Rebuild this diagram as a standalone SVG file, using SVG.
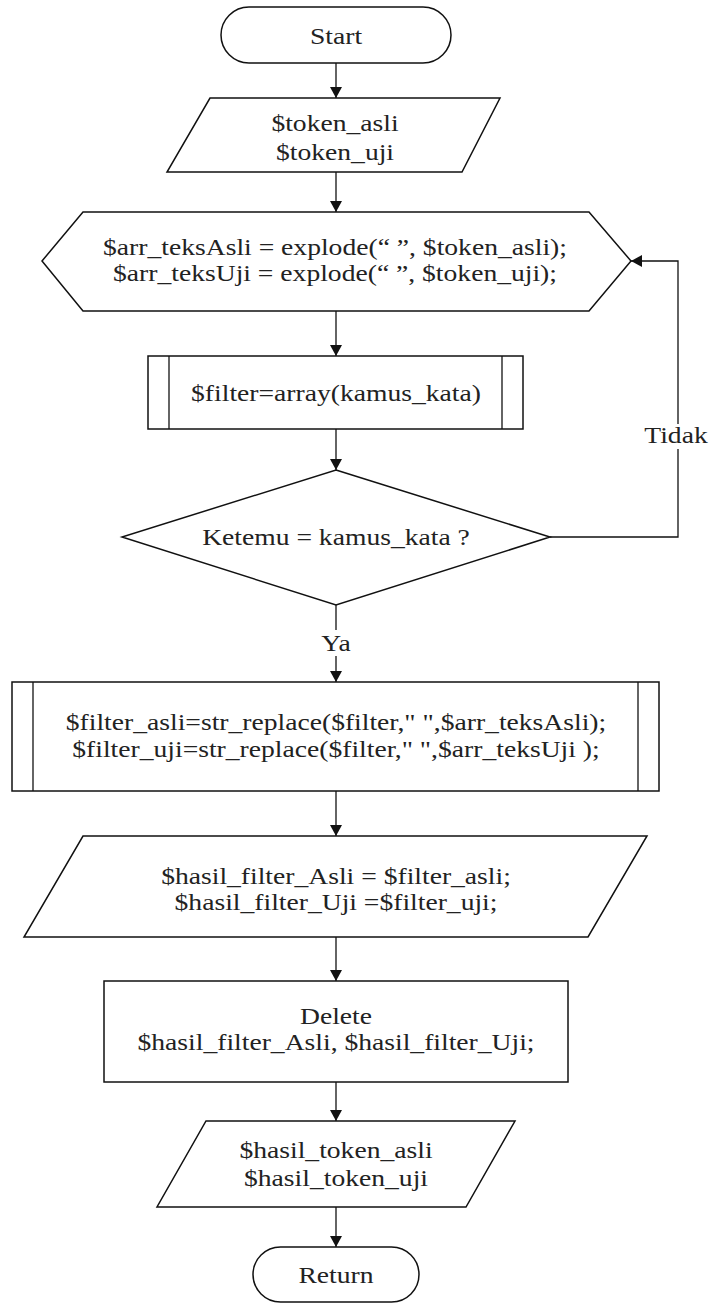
<svg xmlns="http://www.w3.org/2000/svg" width="716" height="1304" viewBox="0 0 716 1304">
  <style>
    .shape { fill: #ffffff; stroke: #111111; stroke-width: 1.5; }
    .inner { fill: none; stroke: #111111; stroke-width: 1.3; }
    .conn { fill: none; stroke: #111111; stroke-width: 1.3; }
    .t { font-family: "Liberation Serif", "Times New Roman", serif; font-size: 24px; fill: #222222; text-anchor: middle; }
    .bg { fill: #ffffff; stroke: none; }
  </style>
  <defs>
    <marker id="arrow" viewBox="0 0 11 12" refX="11" refY="6" markerWidth="11" markerHeight="12" markerUnits="userSpaceOnUse" orient="auto">
      <path d="M0,0 L11,6 L0,12 z" fill="#111111"/>
    </marker>
  </defs>

  <rect width="716" height="1304" fill="#ffffff"/>

  <!-- connectors -->
  <g id="connectors">
    <line class="conn" x1="336" y1="63" x2="336" y2="98" marker-end="url(#arrow)"/>
    <line class="conn" x1="336" y1="172" x2="336" y2="212" marker-end="url(#arrow)"/>
    <line class="conn" x1="336" y1="311" x2="336" y2="356" marker-end="url(#arrow)"/>
    <line class="conn" x1="336" y1="429" x2="336" y2="470" marker-end="url(#arrow)"/>
    <line class="conn" x1="336" y1="605" x2="336" y2="682" marker-end="url(#arrow)"/>
    <line class="conn" x1="336" y1="791" x2="336" y2="836" marker-end="url(#arrow)"/>
    <line class="conn" x1="336" y1="937" x2="336" y2="981" marker-end="url(#arrow)"/>
    <line class="conn" x1="336" y1="1082" x2="336" y2="1121" marker-end="url(#arrow)"/>
    <line class="conn" x1="336" y1="1207" x2="336" y2="1247" marker-end="url(#arrow)"/>
    <!-- "Tidak" loop back to the explode step -->
    <polyline class="conn" points="550,537 678,537 678,261 631,261" marker-end="url(#arrow)"/>
    <!-- branch labels -->
    <rect class="bg" x="322" y="630" width="28" height="26"/>
    <text class="t" transform="translate(336 651) scale(1.15 1)">Ya</text>
    <rect class="bg" x="642" y="424" width="70" height="25"/>
    <text class="t" transform="translate(676 443) scale(1.15 1)">Tidak</text>
  </g>

  <!-- start -->
  <g id="start">
    <rect class="shape" x="221" y="7" width="230" height="56" rx="28" ry="28"/>
    <text class="t" transform="translate(336 44) scale(1.15 1)">Start</text>
  </g>

  <!-- input tokens -->
  <g id="input-token">
    <polygon class="shape" points="210,98 500,98 462,172 167,172"/>
    <text class="t" transform="translate(335 131) scale(1.15 1)">$token_asli</text>
    <text class="t" transform="translate(335 160) scale(1.15 1)">$token_uji</text>
  </g>

  <!-- explode (preparation) -->
  <g id="explode">
    <polygon class="shape" points="42,261 83,212 589,212 631,261 589,311 83,311"/>
    <text class="t" transform="translate(335 255) scale(1.15 1)">$arr_teksAsli = explode(“ ”, $token_asli);</text>
    <text class="t" transform="translate(335 281) scale(1.15 1)">$arr_teksUji = explode(“ ”, $token_uji);</text>
  </g>

  <!-- filter array (predefined process) -->
  <g id="filter-array">
    <rect class="shape" x="148" y="356" width="375" height="73"/>
    <line class="inner" x1="169" y1="356" x2="169" y2="429"/>
    <line class="inner" x1="502" y1="356" x2="502" y2="429"/>
    <text class="t" transform="translate(336 401) scale(1.15 1)">$filter=array(kamus_kata)</text>
  </g>

  <!-- decision -->
  <g id="decision">
    <polygon class="shape" points="336,470 550,537 336,605 122,537"/>
    <text class="t" transform="translate(336 545) scale(1.15 1)">Ketemu = kamus_kata ?</text>
  </g>

  <!-- str_replace (predefined process) -->
  <g id="str-replace">
    <rect class="shape" x="12" y="682" width="647" height="109"/>
    <line class="inner" x1="33" y1="682" x2="33" y2="791"/>
    <line class="inner" x1="638" y1="682" x2="638" y2="791"/>
    <text class="t" transform="translate(336 730) scale(1.15 1)">$filter_asli=str_replace($filter," ",$arr_teksAsli);</text>
    <text class="t" transform="translate(336 757) scale(1.15 1)">$filter_uji=str_replace($filter," ",$arr_teksUji );</text>
  </g>

  <!-- filter result -->
  <g id="hasil-filter">
    <polygon class="shape" points="83,836 647,836 588,937 24,937"/>
    <text class="t" transform="translate(336 884) scale(1.15 1)">$hasil_filter_Asli = $filter_asli;</text>
    <text class="t" transform="translate(336 910) scale(1.15 1)">$hasil_filter_Uji =$filter_uji;</text>
  </g>

  <!-- delete step -->
  <g id="delete">
    <rect class="shape" x="104" y="981" width="464" height="101"/>
    <text class="t" transform="translate(336 1024) scale(1.15 1)">Delete</text>
    <text class="t" transform="translate(336 1050) scale(1.15 1)">$hasil_filter_Asli, $hasil_filter_Uji;</text>
  </g>

  <!-- output tokens -->
  <g id="output-token">
    <polygon class="shape" points="206,1121 515,1121 466,1207 157,1207"/>
    <text class="t" transform="translate(336 1158) scale(1.15 1)">$hasil_token_asli</text>
    <text class="t" transform="translate(336 1186) scale(1.15 1)">$hasil_token_uji</text>
  </g>

  <!-- return -->
  <g id="return">
    <rect class="shape" x="253" y="1247" width="166" height="55" rx="27.5" ry="27.5"/>
    <text class="t" transform="translate(336 1283) scale(1.15 1)">Return</text>
  </g>
</svg>
